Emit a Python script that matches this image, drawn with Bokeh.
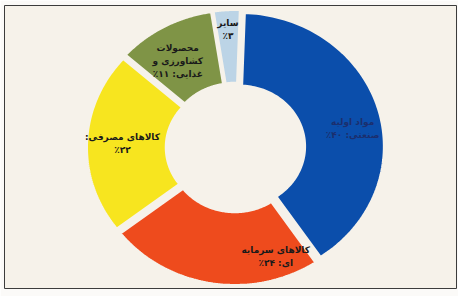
import numpy as np
from bokeh.plotting import figure
from bokeh.models import Range1d, ColumnDataSource
from bokeh.embed import file_html
from bokeh.resources import INLINE
from bokeh.core.properties import value

# ---- data ----
categories = ["مواد اولیه صنعتی", "کالاهای سرمایه‌ای", "کالاهای مصرفی",
              "محصولات کشاورزی و غذایی", "سایر"]
shares = [40, 24, 22, 11, 3]
label_names = [["مواد اولیه", "صنعتی: "], ["کالاهای سرمایه", "ای: "],
               ["کالاهای مصرفی:", ""], ["محصولات", "کشاورزی و", "غذایی: "],
               ["سایر", ""]]
colors = ["#0b4eab", "#ee4b1d", "#f7e51f", "#7f9446", "#bcd4e6"]
label_colors = ["#1b2f6e", "#1a1a1a", "#1a1a1a", "#1a1a1a", "#1a1a1a"]

# ---- layout / style ----
W, H = 458, 296
ML, MT, MR, MB = 4, 5, 2, 8          # frame margins
FW, FH = W - ML - MR, H - MT - MB
CX, CY_TOP = 231, 142                # donut centre in frame pixels
RX, RY = 145, 134                    # pixels per data unit (outer radius = 1)
R_OUT, R_IN = 1.0, 0.45
EXPLODE = 4                          # px
START_CW = 2.0                       # degrees clockwise from 12 o'clock
LABEL_R = [0.82, 0.86, 0.78, 0.76, 0.88]
LABEL_DA = [-6, 28, 0, 3, 0]
BG = "#f6f2ea"
RLM = "\u200f"

FA = str.maketrans("0123456789", "۰۱۲۳۴۵۶۷۸۹")


def fa(n):
    return str(n).translate(FA)


total = float(sum(shares))
cum = np.concatenate([[0.0], np.cumsum(shares)]) / total * 360.0

xs, ys, lx, ly, texts = [], [], [], [], []
for i in range(len(shares)):
    a0 = np.radians(90 - (START_CW + cum[i]))
    a1 = np.radians(90 - (START_CW + cum[i + 1]))
    t = np.linspace(a0, a1, 90)
    mid = (a0 + a1) / 2
    ox = EXPLODE * np.cos(mid) / RX
    oy = EXPLODE * np.sin(mid) / RY
    xs.append(list(np.concatenate([R_OUT * np.cos(t), R_IN * np.cos(t[::-1])]) + ox))
    ys.append(list(np.concatenate([R_OUT * np.sin(t), R_IN * np.sin(t[::-1])]) + oy))
    ang = mid + np.radians(LABEL_DA[i])
    lx.append(LABEL_R[i] * np.cos(ang))
    ly.append(LABEL_R[i] * np.sin(ang))
    lines = list(label_names[i])
    lines[-1] = lines[-1] + fa(shares[i]) + RLM + "٪"
    texts.append("\n".join(RLM + ln + RLM for ln in lines))

src = ColumnDataSource(dict(xs=xs, ys=ys, color=colors, cat=categories))
lsrc = ColumnDataSource(dict(x=lx, y=ly, text=texts, tc=label_colors))

p = figure(width=W, height=H,
           x_range=Range1d(-CX / RX, (FW - CX) / RX),
           y_range=Range1d(-(FH - CY_TOP) / RY, CY_TOP / RY),
           output_backend="svg", toolbar_location=None,
           x_axis_type=None, y_axis_type=None,
           min_border_left=ML, min_border_top=MT, min_border_right=MR, min_border_bottom=MB,
           background_fill_color=BG, border_fill_color="#fbfaf8",
           outline_line_color="#3c3c3c", outline_line_width=1)
p.grid.visible = False

p.patches("xs", "ys", fill_color="color", line_color=BG, line_width=3, source=src)
p.text("x", "y", text="text", source=lsrc, text_align="center", text_baseline="middle",
       text_font=value("DejaVu Sans"), text_font_size="9px", text_font_style="bold",
       text_color="tc", text_line_height=1.3)

open("out.html", "w").write(file_html(p, INLINE))
